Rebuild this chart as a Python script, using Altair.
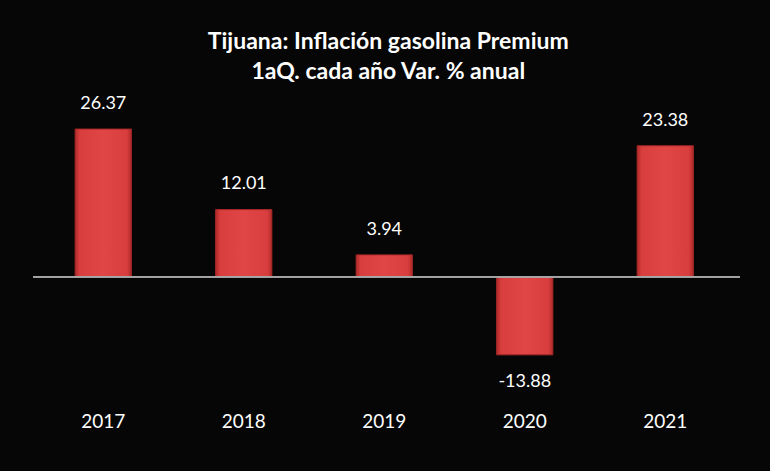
import altair as alt
import pandas as pd

years = ["2017", "2018", "2019", "2020", "2021"]
values = [26.37, 12.01, 3.94, -13.88, 23.38]
title_lines = ["Tijuana: Inflación gasolina Premium", "1aQ. cada año Var. % anual"]

df = pd.DataFrame({"year": years, "value": values, "zero": [0.0] * len(years)})

FONT = "Lato"
YDOM = [-21.93, 32.44]

x = alt.X("year:N", sort=years, title=None,
          scale=alt.Scale(paddingInner=0.6, paddingOuter=0.3),
          axis=alt.Axis(domain=False, ticks=False, grid=False, labelAngle=0,
                        labelColor="white", labelFont=FONT, labelFontSize=19,
                        labelPadding=12))
yscale = alt.Scale(domain=YDOM, nice=False, zero=False)

base = alt.Chart(df)

bar_fill = alt.LinearGradient(
    gradient="linear", x1=0, x2=1, y1=0, y2=0,
    stops=[
        alt.GradientStop(offset=0, color="#b02a2a"),
        alt.GradientStop(offset=0.08, color="#d83e3d"),
        alt.GradientStop(offset=0.5, color="#e04646"),
        alt.GradientStop(offset=0.92, color="#d83e3d"),
        alt.GradientStop(offset=1, color="#b02a2a"),
    ],
)

bars = base.mark_bar(fill=bar_fill, stroke="#a82828", strokeWidth=1).encode(
    x=x,
    y=alt.Y("value:Q", scale=yscale, axis=None),
    y2="zero:Q",
)

zero = base.mark_rule(color="#a8a8a8", strokeWidth=1).encode(
    y=alt.Y("zero:Q", scale=yscale, axis=None),
    x=alt.value(0), x2=alt.value(707),
)

labels = base.transform_calculate(
    pos="datum.value >= 0 ? datum.value + 4.5 : datum.value - 4.9",
    lbl="replace(format(datum.value, '.2f'), '\u2212', '-')",
).mark_text(baseline="middle", color="white", font=FONT, fontSize=18).encode(
    x=x,
    y=alt.Y("pos:Q", scale=yscale, axis=None),
    text="lbl:N",
)

chart = alt.layer(bars, zero, labels).properties(
    width=702.5, height=305,
    autosize=alt.AutoSizeParams(type="none"),
    padding={"left": 33, "top": 95, "right": 34, "bottom": 71},
    background="#060606",
    title=alt.TitleParams(
        text=title_lines, color="white", font=FONT, fontSize=23, fontWeight="bold",
        anchor="middle", lineHeight=30, offset=11, dx=4,
    ),
).configure_view(stroke=None)

chart.save("out.html", embed_options={"renderer": "svg", "actions": False})
